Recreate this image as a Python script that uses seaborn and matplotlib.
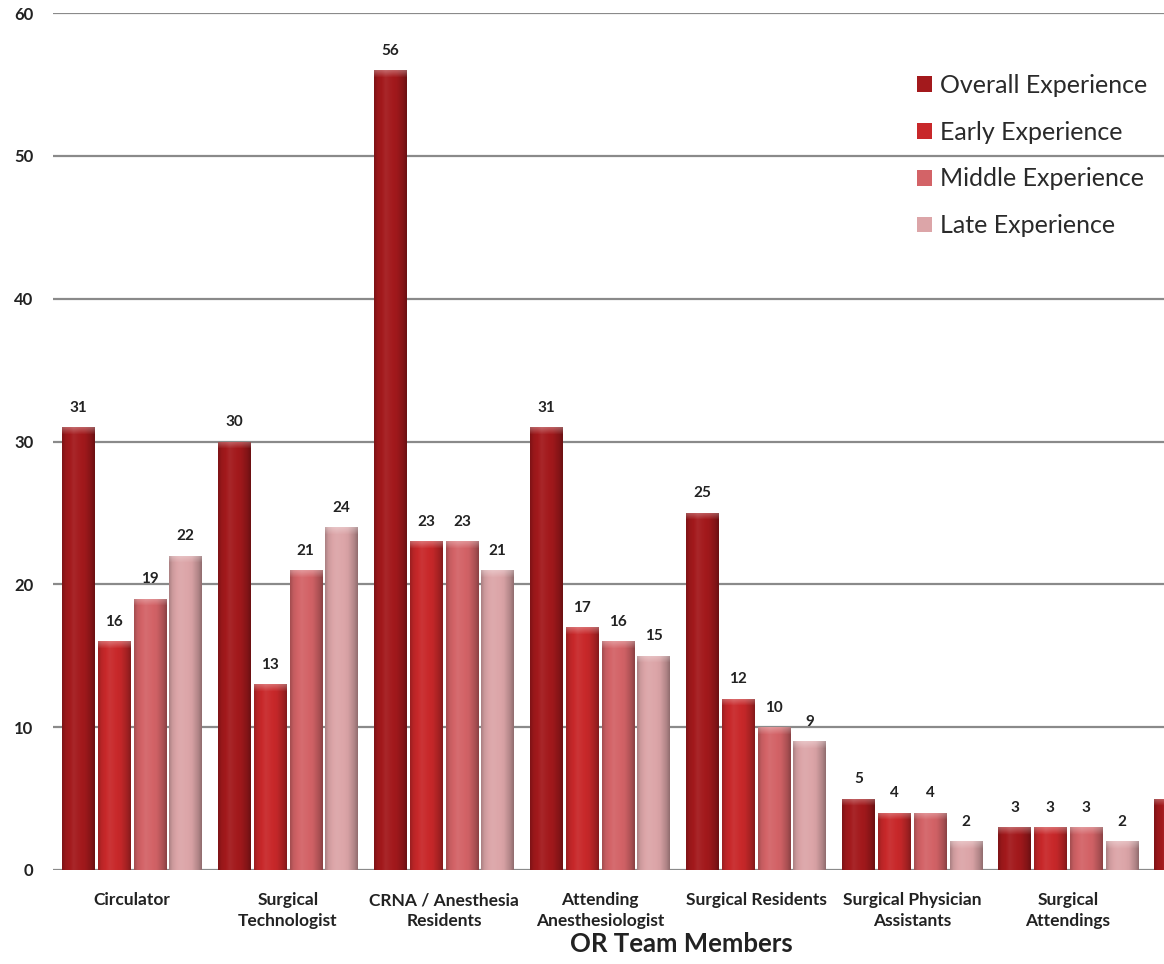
import numpy as np
import pandas as pd
import matplotlib
matplotlib.use("Agg")
import matplotlib.pyplot as plt
from matplotlib.patches import Patch, Rectangle
from matplotlib.colors import to_rgb
import seaborn as sns

# Team roles (the last group runs past the right edge of the plot area)
categories = ["Circulator", "Surgical\nTechnologist", "CRNA / Anesthesia\nResidents",
              "Attending\nAnesthesiologist", "Surgical Residents",
              "Surgical Physician\nAssistants", "Surgical\nAttendings", ""]
overall = [31, 30, 56, 31, 25, 5, 3, 5]
early = [16, 13, 23, 17, 12, 4, 3, None]
middle = [19, 21, 23, 16, 10, 4, 3, None]
late = [22, 24, 21, 15, 9, 2, 2, None]

series = ["Overall Experience", "Early Experience", "Middle Experience", "Late Experience"]
colors = ["#A3191C", "#C8282A", "#D36367", "#DCA5A8"]
yticks = [0, 10, 20, 30, 40, 50, 60]

rows = []
for name, vals in zip(series, [overall, early, middle, late]):
    for cat, v in zip(categories, vals):
        if v is not None:
            rows.append({"team": cat, "count": v, "series": name})
df = pd.DataFrame(rows)

sns.set_theme(style="white")
plt.rcParams["font.family"] = ["Lato", "DejaVu Sans"]

fig = plt.figure(figsize=(11.64, 9.64), dpi=100)
ax = fig.add_axes([53 / 1164, 94 / 964, 1 - 53 / 1164, (870 - 13) / 964])

sns.barplot(data=df, x="team", y="count", hue="series", order=categories,
            hue_order=series, palette=colors, saturation=1, width=0.915, gap=0.1,
            ax=ax, legend=False, zorder=2)

# Cylinder-like shading on each bar
def shade(base, m):
    base = np.array(base)
    if m >= 1:
        return base + (1 - base) * (m - 1)
    return base * m

xs = np.linspace(0, 1, 48)
prof = np.interp(xs, [0, 0.1, 0.35, 0.7, 0.9, 1.0], [0.78, 0.93, 1.06, 0.97, 0.8, 0.66])
px_per_unit = 857 / 60.0
for patch in list(ax.patches):
    if not isinstance(patch, Rectangle):
        continue
    h = patch.get_height()
    if not np.isfinite(h) or h <= 0:
        continue
    x0, w = patch.get_x(), patch.get_width()
    base = to_rgb(patch.get_facecolor())
    nrows = max(int(h * px_per_unit), 4)
    img = np.zeros((nrows, len(xs), 3))
    for i, m in enumerate(prof):
        img[:, i, :] = shade(base, m)
    cap = min(7, nrows)
    for r in range(cap):
        t = 1 - r / cap
        img[r] = img[r] + (1 - img[r]) * 0.3 * t
    img = np.clip(img, 0, 1)
    im = ax.imshow(img, extent=[x0, x0 + w, 0, h], aspect="auto", origin="upper",
                   zorder=2.5, interpolation="bilinear")
    im.set_clip_path(patch)
    patch.set_edgecolor("none")

for cont in ax.containers:
    labels = [f"{int(v)}" if np.isfinite(v) else "" for v in cont.datavalues]
    ax.bar_label(cont, labels=labels, padding=9, fontsize=11, fontweight="bold",
                 color="#222222")

ax.set_xlim(-0.506, 6.615)
ax.set_ylim(0, 60)
ax.set_yticks(yticks)
ax.set_yticklabels([str(v) for v in yticks], fontsize=12, fontweight="bold", color="#222222")
ax.yaxis.grid(True, color="#8a8a8a", linewidth=1.6)
ax.xaxis.grid(False)
ax.set_axisbelow(True)
for s in ax.spines.values():
    s.set_visible(False)
ax.tick_params(axis="both", length=0)
ax.tick_params(axis="y", pad=14)
ax.tick_params(axis="x", pad=16)
for lab in ax.get_xticklabels():
    lab.set_fontsize(12.5)
    lab.set_fontweight("bold")
    lab.set_color("#222222")
    lab.set_linespacing(1.4)
ax.set_ylabel("")
ax.set_xlabel("OR Team Members", fontsize=18.5, fontweight="bold", color="#222222")
ax.xaxis.set_label_coords((681 - 53) / 1111, -0.072)

handles = [Patch(facecolor=c, edgecolor="none") for c in colors]
fig.legend(handles, series, loc="upper left", bbox_to_anchor=(917 / 1164, 1 - 74 / 964),
           frameon=False, fontsize=18, handlelength=0.6, handleheight=0.6,
           handletextpad=0.3, labelspacing=0.95, borderpad=0, borderaxespad=0,
           labelcolor="#2a2a2a")

fig.savefig("out.png", dpi=100)
